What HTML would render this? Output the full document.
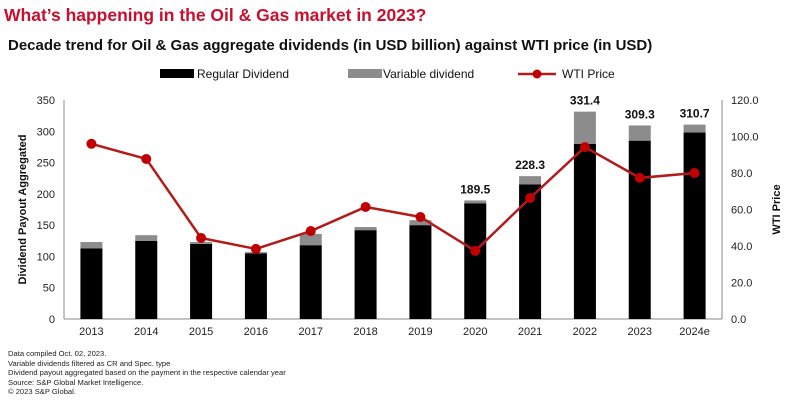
<!DOCTYPE html>
<html><head><meta charset="utf-8">
<style>
body{margin:0;background:#fff;font-family:"Liberation Sans",Arial,sans-serif;}
#wrap{position:relative;width:798px;height:409px;overflow:hidden;}
.t1{position:absolute;left:4px;top:5px;font-size:17.5px;font-weight:bold;color:#c8102e;}
.t2{position:absolute;left:8px;top:37px;font-size:15px;font-weight:bold;color:#111;}
.notes{position:absolute;left:8px;top:349px;font-size:7.6px;line-height:9.6px;color:#222;}
</style></head><body>
<div id="wrap">
<div class="t1">What’s happening in the Oil &amp; Gas market in 2023?</div>
<div class="t2">Decade trend for Oil &amp; Gas aggregate dividends (in USD billion) against WTI price (in USD)</div>
<svg id="svg" width="798" height="409" style="position:absolute;left:0;top:0"></svg>
<div class="notes">Data compiled Oct. 02, 2023.<br>Variable dividends filtered as CR and Spec. type<br>Dividend payout aggregated based on the payment in the respective calendar year<br>Source: S&amp;P Global Market Intelligence.<br>© 2023 S&amp;P Global.</div>
</div>
<script>
const categories=["2013","2014","2015","2016","2017","2018","2019","2020","2021","2022","2023","2024e"];
const regular=[113,125,120,105,118,142,150,185,215,280,285,298];
const variable=[10,9,3,2,18,5,8,4.5,13.3,51.4,24.3,12.7];
const totalLabels=[null,null,null,null,null,null,null,"189.5","228.3","331.4","309.3","310.7"];
const wti=[96,87.7,44.4,38.4,48.2,61.4,55.9,37.3,66.3,94.2,77.3,80];
const leftTicks=[0,50,100,150,200,250,300,350];
const rightTicks=[0,20,40,60,80,100,120];

const NS="http://www.w3.org/2000/svg";
const svg=document.getElementById('svg');
const X0=64,X1=722,Y0=319,Y1=100;
const step=(X1-X0)/categories.length;
const xc=i=>X0+step*(i+0.5);
const yL=v=>Y0-(v/350)*(Y0-Y1);
const yR=v=>Y0-(v/120)*(Y0-Y1);
function mk(t,a,p){const e=document.createElementNS(NS,t);for(const k in a)e.setAttribute(k,a[k]);(p||svg).appendChild(e);return e;}
// axes
let e=mk('line',{x1:X0,y1:Y1,x2:X0,y2:Y0,stroke:'#888','stroke-width':1});

e=mk('line',{x1:X0,y1:Y0,x2:X1,y2:Y0,stroke:'#888','stroke-width':1});

e=mk('line',{x1:X1,y1:Y1,x2:X1,y2:Y0,stroke:'#888','stroke-width':1});

leftTicks.forEach(v=>{const t=mk('text',{x:X0-9,y:yL(v)+4,'text-anchor':'end','font-size':11,fill:'#222'});t.textContent=v;
});
rightTicks.forEach(v=>{const t=mk('text',{x:X1+9,y:yR(v)+4,'font-size':11,fill:'#222'});t.textContent=v.toFixed(1);
});
let t=mk('text',{transform:`translate(26,${(Y0+Y1)/2}) rotate(-90)`,'text-anchor':'middle','font-size':11,'font-weight':'bold',fill:'#111'});t.textContent='Dividend Payout  Aggregated';

t=mk('text',{transform:`translate(780,${(Y0+Y1)/2}) rotate(-90)`,'text-anchor':'middle','font-size':11,'font-weight':'bold',fill:'#111'});t.textContent='WTI Price';

const bw=22;
categories.forEach((c,i)=>{
 const x=xc(i);
 let r=mk('rect',{x:x-bw/2,y:yL(regular[i]),width:bw,height:Y0-yL(regular[i]),fill:'#000'});
 
 r=mk('rect',{x:x-bw/2,y:yL(regular[i]+variable[i]),width:bw,height:yL(regular[i])-yL(regular[i]+variable[i]),fill:'#8c8c8c'});
 
 const l=mk('text',{x:x,y:Y0+16,'text-anchor':'middle','font-size':11,fill:'#222'});l.textContent=c;
 
 if(totalLabels[i]){const v=mk('text',{x:x,y:yL(regular[i]+variable[i])-7,'text-anchor':'middle','font-size':12,'font-weight':'bold',fill:'#111'});v.textContent=totalLabels[i];
 }
});
const pts=wti.map((v,i)=>xc(i)+','+yR(v)).join(' ');
let pl=mk('polyline',{points:pts,fill:'none',stroke:'#b31b1b','stroke-width':2.5});

wti.forEach((v,i)=>{const c=mk('circle',{cx:xc(i),cy:yR(v),r:5,fill:'#c00000'});
});
// legend
let g=mk('g',{});
mk('rect',{x:160,y:69,width:34,height:9,fill:'#000'},g);
t=mk('text',{x:197,y:78,'font-size':12,fill:'#111'},g);t.textContent='Regular Dividend';
g=mk('g',{});
mk('rect',{x:348,y:69,width:34,height:9,fill:'#8c8c8c'},g);
t=mk('text',{x:383,y:78,'font-size':12,fill:'#111'},g);t.textContent='Variable dividend';
g=mk('g',{});
mk('line',{x1:518,y1:74,x2:556,y2:74,stroke:'#b31b1b','stroke-width':2.5},g);
mk('circle',{cx:537,cy:74,r:4.5,fill:'#c00000'},g);
t=mk('text',{x:562,y:78,'font-size':12,fill:'#111'},g);t.textContent='WTI Price';
</script>
</body></html>
